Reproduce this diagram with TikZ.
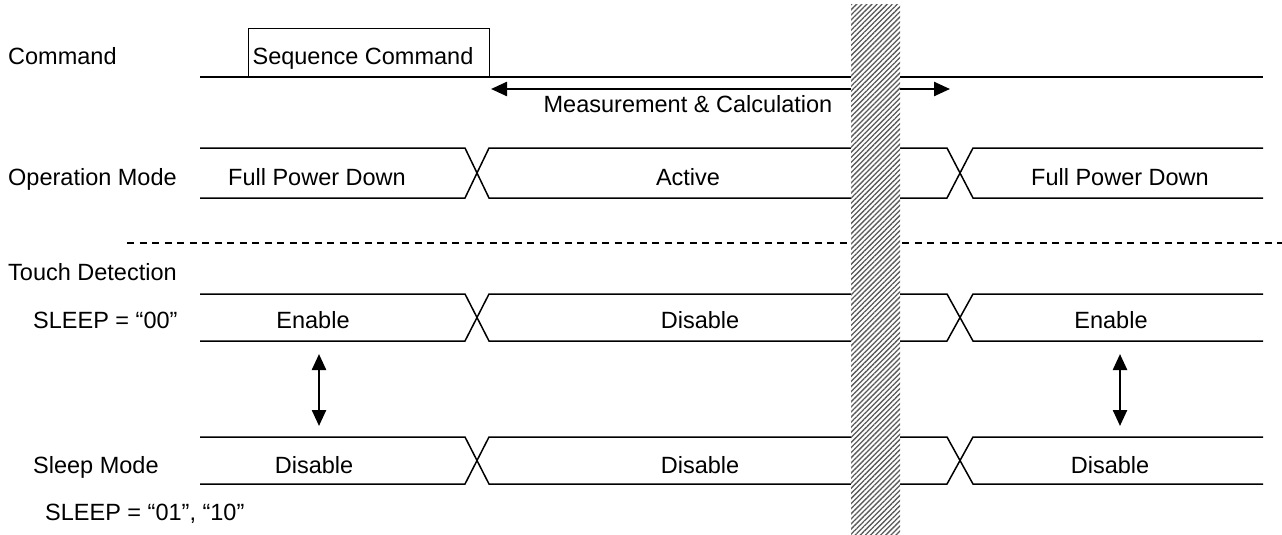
\documentclass[tikz,border=0pt]{standalone}
\usepackage{fontspec}
\setmainfont{Liberation Sans}
\usetikzlibrary{arrows.meta,patterns.meta}
\tikzset{
  sig/.style={line width=1.5pt, line join=miter},
  lbl/.style={inner sep=0pt, font=\fontsize{23.5}{28}\selectfont},
  dtip/.style={{Triangle[length=16pt,width=14pt]}-{Triangle[length=16pt,width=14pt]}},
  hatchpat/.style={pattern={Lines[angle=45,distance=3.6pt,line width=1.3pt]}, pattern color=black!65, draw=none},
}
\newcommand{\busrow}[2]{%
  \draw[sig] (200,#1) -- (465,#1) -- (489,#2) -- (947,#2) -- (973,#1) -- (1263,#1);
  \draw[sig] (200,#2) -- (465,#2) -- (489,#1) -- (947,#1) -- (973,#2) -- (1263,#2);
}
\begin{document}
\begin{tikzpicture}[x=1pt,y=-1pt]
\useasboundingbox (0,0) rectangle (1282,535);
% Command row
\draw[sig] (200,77) -- (1263,77);
\node[draw, line width=1.3pt, minimum width=241pt, minimum height=48pt, inner sep=0pt, anchor=south west, fill=white] (seqbox) at (248,77) {};
\node[lbl, anchor=base] (seqtxt) at (363,65) {Sequence Command};
\node[lbl, anchor=base west] (cmd) at (8,65) {Command};
% Measurement arrow
\coordinate (mL) at (491,89);
\coordinate (mR) at (950,89);
\draw[dtip, line width=2.4pt] (mL) -- (mR);
\node[lbl, anchor=base] (meas) at (688,112) {Measurement \& Calculation};
% Operation mode
\busrow{148}{198}
\node[lbl, anchor=base west] (opm) at (8,185) {Operation Mode};
\node[lbl, anchor=base] (fpd1) at (317,185) {Full Power Down};
\node[lbl, anchor=base] (act) at (688,185) {Active};
\node[lbl, anchor=base] (fpd2) at (1120,185) {Full Power Down};
% dashed separator
\coordinate (dL) at (127,243);
\coordinate (dR) at (1282,243);
\draw[line width=1.4pt, dash pattern=on 7pt off 5.5pt] (dL) -- (dR);
\node[lbl, anchor=base west] (td) at (8,280) {Touch Detection};
% SLEEP 00 row
\busrow{294}{341}
\node[lbl, anchor=base west] (s00) at (33,328) {SLEEP = “00”};
\node[lbl, anchor=base] (en1) at (313,328) {Enable};
\node[lbl, anchor=base] (dis1) at (700,328) {Disable};
\node[lbl, anchor=base] (en2) at (1111,328) {Enable};
% vertical arrows
\coordinate (a1t) at (319,354);
\coordinate (a1b) at (319,426);
\coordinate (a2t) at (1120,354);
\coordinate (a2b) at (1120,426);
\draw[dtip, line width=2.4pt] (a1t) -- (a1b);
\draw[dtip, line width=2.4pt] (a2t) -- (a2b);
% Sleep mode row
\busrow{437}{484}
\node[lbl, anchor=base west] (slm) at (33,473) {Sleep Mode};
\node[lbl, anchor=base] (dis2) at (314,473) {Disable};
\node[lbl, anchor=base] (dis3) at (700,473) {Disable};
\node[lbl, anchor=base] (dis4) at (1110,473) {Disable};
\node[lbl, anchor=base west] (s01) at (45,520) {SLEEP = “01”, “10”};
% hatched bar
\fill[white] (851,5) rectangle (900,535);
\path[hatchpat] (851,5) rectangle (900,535);
\end{tikzpicture}
\end{document}
